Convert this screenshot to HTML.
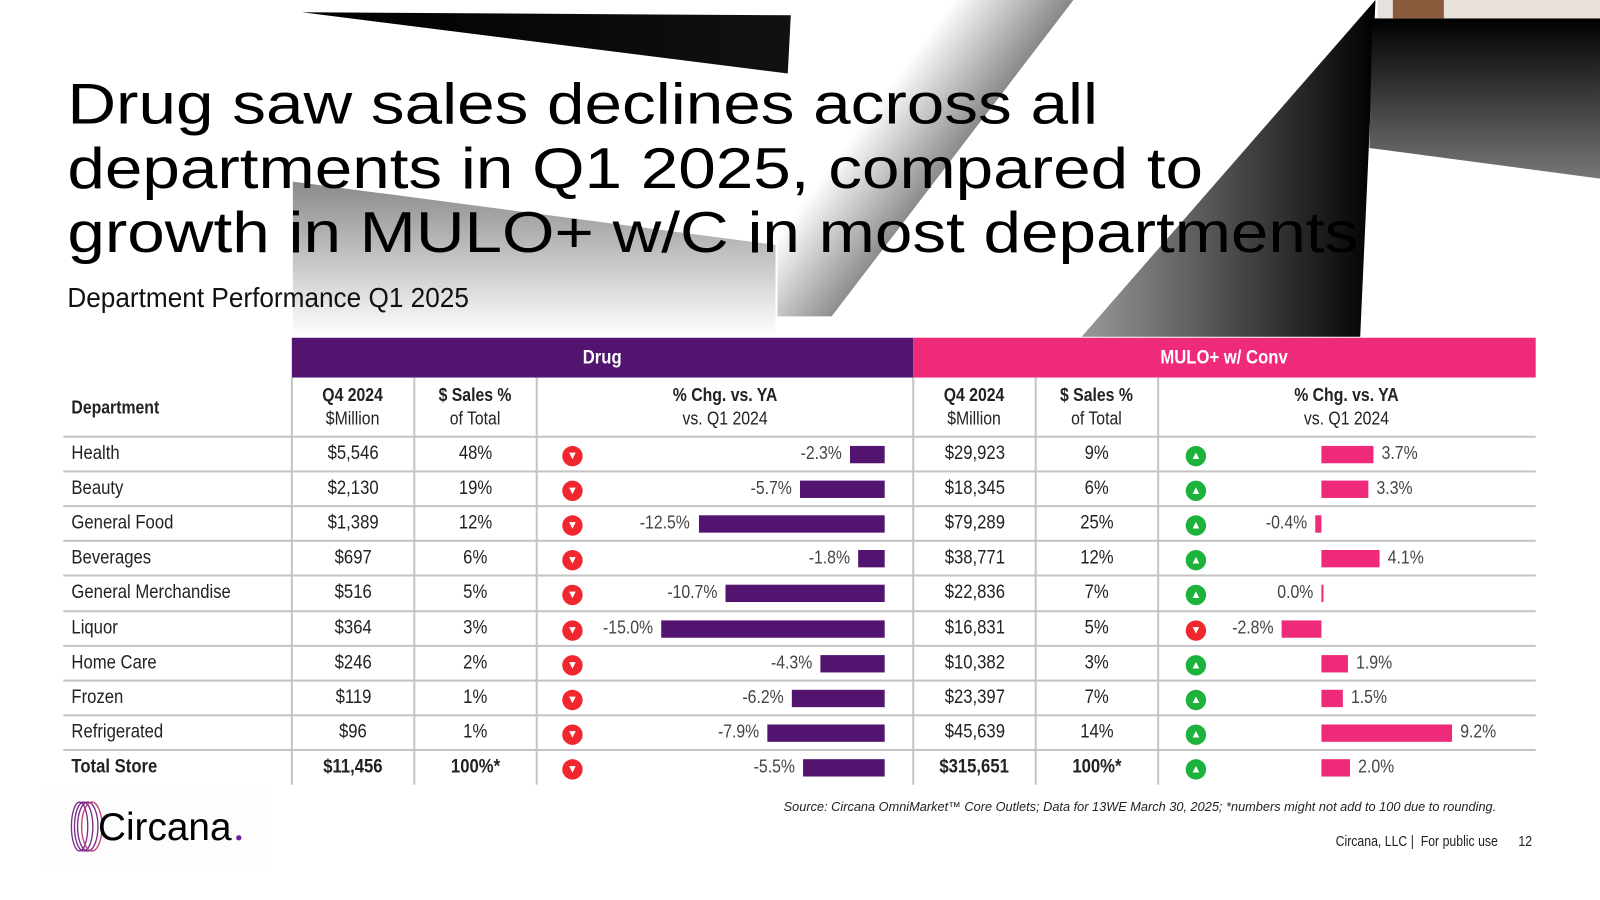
<!DOCTYPE html>
<html><head><meta charset="utf-8"><style>
html,body{margin:0;padding:0;width:1600px;height:900px;overflow:hidden;background:#fff}
#stage{position:absolute;left:0;top:0;width:1568px;height:882px;transform:scale(1.0204);transform-origin:0 0;font-family:"Liberation Sans",sans-serif}
.abs{position:absolute}
#title{left:66px;top:70px;font-size:56px;line-height:63px;color:#000;white-space:nowrap;transform:scaleX(1.18);transform-origin:0 0}
#subtitle{left:66px;top:277px;font-size:27px;color:#111;transform:scaleX(0.95);transform-origin:0 0;white-space:nowrap}
.cell{position:absolute;display:flex;align-items:center;justify-content:center;font-size:19px;color:#222}
.cell>span,.nr{display:inline-block;transform:scaleX(0.86)}
.hline{position:absolute;height:2px;background:#c4c4c4}
.vline{position:absolute;width:2px;background:#c4c4c4}
</style></head><body>
<div id="stage">
<svg class="abs" style="left:0;top:0" width="1568" height="882">
<defs>
<linearGradient id="g1" x1="0" y1="0" x2="1" y2="0"><stop offset="0" stop-color="#000"/><stop offset="1" stop-color="#111"/></linearGradient>
<linearGradient id="g2" x1="0" y1="0" x2="0" y2="1"><stop offset="0" stop-color="#8a8a8a"/><stop offset="1" stop-color="#fff"/></linearGradient>
<linearGradient id="g3" gradientUnits="userSpaceOnUse" x1="860" y1="100" x2="934" y2="155"><stop offset="0" stop-color="#fff"/><stop offset="1" stop-color="#8a8a8a"/></linearGradient>
<linearGradient id="g4" x1="0" y1="0" x2="1" y2="0"><stop offset="0" stop-color="#999"/><stop offset="1" stop-color="#000"/></linearGradient>
<linearGradient id="g5" x1="0" y1="0" x2="0" y2="1"><stop offset="0" stop-color="#000"/><stop offset="1" stop-color="#777"/></linearGradient>
</defs>
<polygon points="287,178 760,240 760,330 287,330" fill="url(#g2)"/>
<polygon points="762,0 1052,0 815,310 762,310" fill="url(#g3)"/>
<polygon points="296,12 775,15 772,72" fill="url(#g1)"/>
<polygon points="1348,0 1333,330 1060,330" fill="url(#g4)"/>
<polygon points="1345,18 1568,18 1568,175 1342,145" fill="url(#g5)"/>
<rect x="1350" y="0" width="218" height="18" fill="#e9e2dc"/>
<rect x="1365" y="0" width="50" height="18" fill="#8b5a3c"/>
</svg>
<div id="title" class="abs">Drug saw sales declines across all<br>departments in Q1 2025, compared to<br>growth in MULO+ w/C in most departments</div>
<div id="subtitle" class="abs">Department Performance Q1 2025</div>
<div id="table"></div>
<div class="abs" style="left:768px;top:784px;font-size:12.5px;font-style:italic;color:#222">Source: Circana OmniMarket™ Core Outlets; Data for 13WE March 30, 2025; *numbers might not add to 100 due to rounding.</div>
<div class="abs" style="left:1268px;top:816px;width:200px;text-align:right;font-size:14px;color:#222;white-space:nowrap"><span class="nr" style="transform-origin:100% 50%">Circana, LLC |&nbsp; For public use</span></div>
<div class="abs" style="left:1488px;top:816px;font-size:14px;color:#222"><span class="nr" style="transform-origin:0 50%">12</span></div>
<div class="abs" style="left:46px;top:768px;width:214px;height:84px;background:#fdfdfd">
<svg width="214" height="84"><g fill="none" stroke="#7a2a8a" stroke-width="1.3"><ellipse cx="32" cy="42" rx="8" ry="24"/><ellipse cx="36" cy="42" rx="9" ry="24"/><ellipse cx="40" cy="42" rx="10" ry="24"/><ellipse cx="44" cy="42" rx="10" ry="24" stroke="#c04070"/></g>
<text x="50" y="55" font-family="Liberation Sans,sans-serif" font-size="38" fill="#000">Circana</text><circle cx="188" cy="53" r="2.6" fill="#6b1fa0"/></svg></div>
</div>
<script>
const departments=["Health","Beauty","General Food","Beverages","General Merchandise","Liquor","Home Care","Frozen","Refrigerated","Total Store"];
const drugSales=["$5,546","$2,130","$1,389","$697","$516","$364","$246","$119","$96","$11,456"];
const drugShare=["48%","19%","12%","6%","5%","3%","2%","1%","1%","100%*"];
const drugChg=[-2.3,-5.7,-12.5,-1.8,-10.7,-15.0,-4.3,-6.2,-7.9,-5.5];
const muloSales=["$29,923","$18,345","$79,289","$38,771","$22,836","$16,831","$10,382","$23,397","$45,639","$315,651"];
const muloShare=["9%","6%","25%","12%","7%","5%","3%","7%","14%","100%*"];
const muloChg=[3.7,3.3,-0.4,4.1,0.0,-2.8,1.9,1.5,9.2,2.0];
const muloUp=[1,1,1,1,1,0,1,1,1,1];
const T=document.getElementById('table');
function add(tag,cls,style,html){const e=document.createElement(tag);if(cls)e.className=cls;e.style.cssText=style;if(html!==undefined)e.innerHTML=html;T.appendChild(e);return e;}
const cols=[62,286,406,526,895,1015,1135,1505];
let e;
e=add('div','cell','left:286px;top:331px;width:609px;height:39px;background:#52146e;color:#fff;font-weight:bold;font-size:19px','<span>Drug</span>');


e=add('div','cell','left:895px;top:331px;width:610px;height:39px;background:#ef2a7b;color:#fff;font-weight:bold;font-size:19px','<span>MULO+ w/ Conv</span>');


const heads=['<b>Department</b>','<b>Q4 2024</b><br>$Million','<b>$ Sales %</b><br>of Total','<b>% Chg. vs. YA</b><br>vs. Q1 2024','<b>Q4 2024</b><br>$Million','<b>$ Sales %</b><br>of Total','<b>% Chg. vs. YA</b><br>vs. Q1 2024'];
for(let i=0;i<7;i++){
 e=add('div','cell',`left:${cols[i]}px;top:370px;width:${cols[i+1]-cols[i]}px;height:58px;text-align:center;line-height:23px;font-size:18px;${i==0?'justify-content:flex-start;padding-left:8px;box-sizing:border-box':''}`,`<span style="transform-origin:${i==0?'0 50%':'50% 50%'}">${heads[i]}</span>`);
 
 
}
const rowTop=428,rowH=34.1;
const dScale=14.6,dZero=867,mScale=13.9,mZero=1295;
e=add('div','hline',`left:62px;top:${rowTop-1}px;width:1443px`);


for(let r=0;r<departments.length;r++){
 const y=rowTop+r*rowH, cy=y+rowH/2, tot=r==departments.length-1, fw=tot?'font-weight:bold;':'';
 const vals=[departments[r],drugSales[r],drugShare[r],null,muloSales[r],muloShare[r],null];
 for(let i=0;i<7;i++){ if(vals[i]===null)continue;
  e=add('div','cell',`left:${cols[i]}px;top:${y}px;width:${cols[i+1]-cols[i]}px;height:${rowH}px;${fw}${i==0?'justify-content:flex-start;padding-left:8px;box-sizing:border-box':''}`,`<span style="transform-origin:${i==0?'0 50%':'50% 50%'}">${vals[i]}</span>`);
  
  
 }
 const dv=drugChg[r], dw=Math.abs(dv)*dScale;
 e=add('div','abs',`left:${dZero-dw}px;top:${cy-8}px;width:${dw}px;height:17px;background:#52146e`);
 
 
 e=add('div','abs',`left:${dZero-dw-110}px;top:${cy-11}px;width:102px;text-align:right;font-size:18px;color:#444`,`<span class="nr" style="transform-origin:100% 50%">${dv.toFixed(1)}%</span>`);
 
 
 e=add('div','abs',`left:551px;top:${cy-8}px;width:20px;height:20px;border-radius:50%;background:#f0272e;color:#fff;font-size:11px;text-align:center;line-height:20px`,'▼');
 
 
 const mv=muloChg[r], mw=Math.max(Math.abs(mv)*mScale,1.5);
 const ml=mv>=0?mZero:mZero-mw;
 e=add('div','abs',`left:${ml}px;top:${cy-8}px;width:${mw}px;height:17px;background:#ef2a7b`);
 
 
 const pos=mv>0;
 const ls=pos?`left:${mZero+mw+8}px;`:`left:${ml-110}px;text-align:right;`;
 e=add('div','abs',`${ls}top:${cy-11}px;width:102px;font-size:18px;color:#444`,`<span class="nr" style="transform-origin:${pos?'0 50%':'100% 50%'}">${mv.toFixed(1)}%</span>`);
 
 
 e=add('div','abs',`left:1162px;top:${cy-8}px;width:20px;height:20px;border-radius:50%;background:${muloUp[r]?'#1db23c':'#f0272e'};color:#fff;font-size:11px;text-align:center;line-height:20px`,muloUp[r]?'▲':'▼');
 
 
 if(!tot){e=add('div','hline',`left:62px;top:${y+rowH-1}px;width:1443px`);
 
 }
}
const bottom=rowTop+departments.length*rowH;
for(let i=1;i<7;i++){
 e=add('div','vline',`left:${cols[i]-1}px;top:370px;height:${bottom-370}px`);
 
 
}
</script>
</body></html>
